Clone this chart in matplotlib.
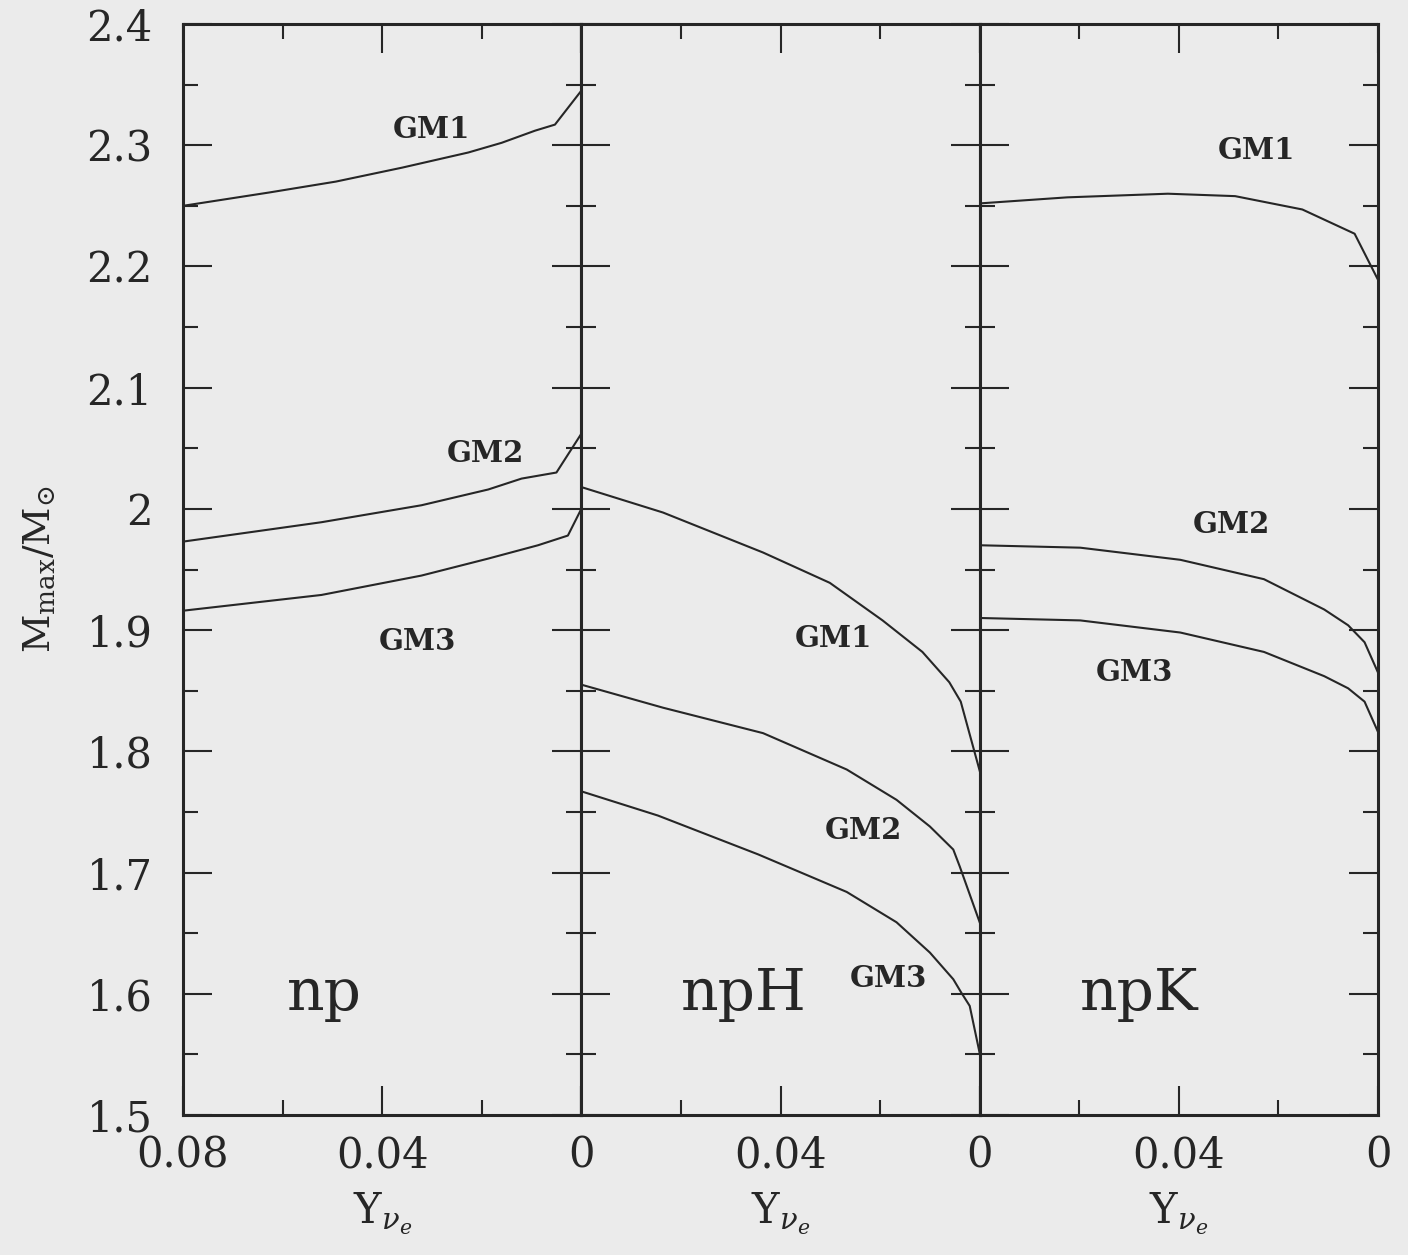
import numpy as np
import matplotlib
matplotlib.use("Agg")
import matplotlib.pyplot as plt
from matplotlib.ticker import MultipleLocator, FixedLocator, FixedFormatter

plt.rcParams['font.family'] = ['DejaVu Serif']
plt.rcParams['mathtext.fontset'] = 'dejavuserif'

INK = '#262626'
PAPER = '#ebebeb'

# panel names
panels = ['np', 'npH', 'npK']

# np panel: Y_nu_e and M_max for the three parameter sets
np_y1 = [0.08, 0.0627, 0.0493, 0.036, 0.0227, 0.016, 0.0093, 0.0053, 0.0]
np_m1 = [2.250, 2.261, 2.270, 2.2815, 2.294, 2.302, 2.312, 2.317, 2.345]
np_y2 = [0.08, 0.0522, 0.0321, 0.0187, 0.012, 0.005, 0.0]
np_m2 = [1.973, 1.989, 2.003, 2.016, 2.025, 2.030, 2.062]
np_y3 = [0.08, 0.0522, 0.0321, 0.0187, 0.0087, 0.0027, 0.0]
np_m3 = [1.916, 1.929, 1.945, 1.959, 1.970, 1.978, 2.000]

# npH panel
nph_y1 = [0.08, 0.0636, 0.0435, 0.0301, 0.0195, 0.0115, 0.0061, 0.0038, 0.0]
nph_m1 = [2.018, 1.997, 1.964, 1.939, 1.908, 1.882, 1.857, 1.841, 1.784]
nph_y2 = [0.08, 0.0636, 0.0435, 0.0267, 0.0167, 0.010, 0.0053, 0.004, 0.0]
nph_m2 = [1.855, 1.836, 1.815, 1.785, 1.760, 1.738, 1.719, 1.705, 1.659]
nph_y3 = [0.08, 0.0646, 0.0445, 0.0267, 0.0167, 0.010, 0.0053, 0.0037, 0.002, 0.0]
nph_m3 = [1.767, 1.747, 1.715, 1.684, 1.659, 1.634, 1.612, 1.601, 1.590, 1.551]

# npK panel
npk_y1 = [0.08, 0.0624, 0.0422, 0.0287, 0.0152, 0.0047, 0.0]
npk_m1 = [2.252, 2.257, 2.260, 2.258, 2.247, 2.227, 2.189]
npk_y = [0.08, 0.0598, 0.0397, 0.0229, 0.0108, 0.006, 0.0027, 0.0]
npk_m2 = [1.970, 1.968, 1.958, 1.942, 1.917, 1.904, 1.890, 1.865]
npk_m3 = [1.910, 1.908, 1.898, 1.882, 1.862, 1.852, 1.841, 1.816]

curves = [
    [(np_y1, np_m1), (np_y2, np_m2), (np_y3, np_m3)],
    [(nph_y1, nph_m1), (nph_y2, nph_m2), (nph_y3, nph_m3)],
    [(npk_y1, npk_m1), (npk_y, npk_m2), (npk_y, npk_m3)],
]

# label anchors (Y, M) for GM1..GM3 and the panel name
gm_names = ['GM1', 'GM2', 'GM3']
gm_pos = [
    [(0.0302, 2.313), (0.0192, 2.046), (0.0330, 1.891)],
    [(0.0294, 1.893), (0.0234, 1.735), (0.0184, 1.613)],
    [(0.0244, 2.296), (0.0295, 1.987), (0.0490, 1.865)],
]
name_pos = [(0.0516, 1.600), (0.0474, 1.600), (0.0480, 1.600)]

x_labels = [['0.08', '0.04', '0'], ['', '0.04', '0'], ['', '0.04', '0']]
y_ticks = [1.5, 1.6, 1.7, 1.8, 1.9, 2.0, 2.1, 2.2, 2.3, 2.4]
y_labels = ['1.5', '1.6', '1.7', '1.8', '1.9', '2', '2.1', '2.2', '2.3', '2.4']

fig = plt.figure(figsize=(14.08, 12.55), dpi=100, facecolor=PAPER)
left, right, bottom, top = 183 / 1408, 1378 / 1408, 1 - 1115 / 1255, 1 - 24 / 1255
w = (right - left) / 3

for i in range(3):
    ax = fig.add_axes([left + i * w, bottom, w, top - bottom], facecolor=PAPER)
    for (yv, mv) in curves[i]:
        ax.plot(yv, mv, color=INK, lw=1.5)
    for name, (px, py) in zip(gm_names, gm_pos[i]):
        ax.text(px, py, name, ha='center', va='center', fontsize=21,
                fontweight='bold', color=INK)
    ax.text(name_pos[i][0], name_pos[i][1], panels[i], ha='center', va='center',
            fontsize=42, color=INK)

    ax.set_xlim(0.08, 0.0)
    ax.set_ylim(1.5, 2.4)
    ax.xaxis.set_major_locator(FixedLocator([0.08, 0.04, 0.0]))
    ax.xaxis.set_major_formatter(FixedFormatter(x_labels[i]))
    ax.xaxis.set_minor_locator(MultipleLocator(0.02))
    ax.yaxis.set_major_locator(FixedLocator(y_ticks))
    ax.yaxis.set_minor_locator(MultipleLocator(0.05))
    if i == 0:
        ax.yaxis.set_major_formatter(FixedFormatter(y_labels))
        ax.set_ylabel(r'$\mathrm{M_{max}/M_{\odot}}$', fontsize=27, color=INK,
                      labelpad=20)
    else:
        ax.tick_params(axis='y', labelleft=False)

    ax.tick_params(which='both', direction='in', top=True, right=True,
                   colors=INK, width=1.5)
    ax.tick_params(which='major', length=21, labelsize=30)
    ax.tick_params(which='minor', length=11)
    ax.tick_params(axis='y', pad=22)
    ax.tick_params(axis='x', pad=14)
    for s in ax.spines.values():
        s.set_linewidth(2.2)
        s.set_color(INK)

    ax.set_xlabel(r'$\mathrm{Y}_{\nu_e}$', fontsize=30, color=INK, labelpad=10)

fig.savefig('out.png', dpi=100, facecolor=PAPER)
